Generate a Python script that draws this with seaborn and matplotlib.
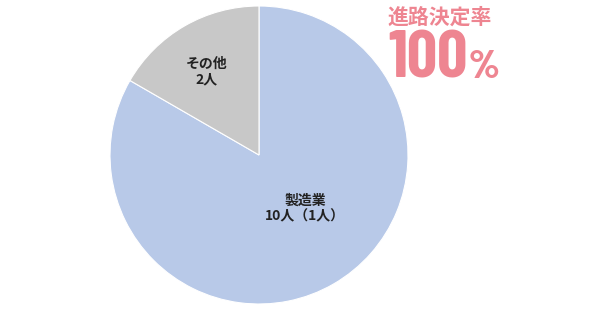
import matplotlib
matplotlib.use("Agg")
import matplotlib.pyplot as plt
import seaborn as sns

sns.set_theme(style="white")
plt.rcParams['font.family'] = ['Noto Sans CJK JP', 'DejaVu Sans']

categories = ["製造業", "その他"]
values = [10, 2]
label_texts = ["製造業\n10人（1人）", "その他\n2人"]
colors = ["#B8C9E8", "#C8C8C8"]
title_text = "進路決定率"
rate_number = "100"
rate_unit = "%"

fig = plt.figure(figsize=(6.1, 3.1), dpi=100)
ax = fig.add_axes([110/610, 6/310, 298/610, 298/310])
wedges, _ = ax.pie(values, colors=colors, startangle=90, counterclock=False,
                   radius=1, wedgeprops=dict(edgecolor="white", linewidth=0.8))
ax.set_xlim(-1, 1)
ax.set_ylim(-1, 1)
ax.set_aspect("equal")
ax.axis("off")

label_pos = [(0.31, -0.36), (-0.35, 0.56)]
for txt, (x, y) in zip(label_texts, label_pos):
    ax.text(x, y, txt, ha="center", va="center", fontsize=10, fontweight="bold",
            color="#222222", linespacing=1.2)

pink = "#EE8591"
numfam = ["Barlow Condensed", "Archivo Narrow", "DejaVu Sans"]
fig.text(440/610, 1 - 17/310, title_text, ha="center", va="center",
         fontsize=15, fontweight="bold", color=pink)
t100 = fig.text(388/610, 1 - 78/310, rate_number, ha="left", va="baseline",
                fontsize=48, fontweight="bold", color=pink, family=numfam)
fig.canvas.draw()
bb = t100.get_window_extent()
fig.text((bb.x1 + 1)/610, 1 - 78/310, rate_unit, ha="left", va="baseline",
         fontsize=29, fontweight="heavy", color=pink, family=numfam)
fig.savefig("out.png", dpi=100)
